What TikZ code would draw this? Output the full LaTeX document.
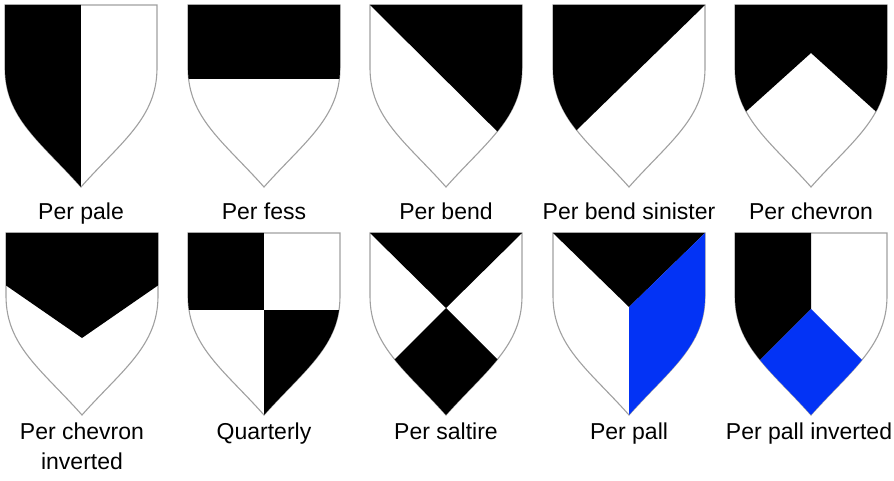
\documentclass[tikz,border=0pt]{standalone}
\usepackage{fontspec}
\setmainfont{Liberation Sans}
\definecolor{tinct}{HTML}{0333F5}
\definecolor{edgegray}{HTML}{A0A0A0}
\def\shieldp{(0,0) -- (152,0) -- (152,63) .. controls (152,113) and (116,137) .. (76,182) .. controls (36,137) and (0,113) .. (0,63) -- cycle}
\tikzset{
  outline/.style={draw=edgegray, line width=1.1pt, fill=white},
  lbl/.style={anchor=base, font=\fontsize{23}{30}\selectfont, inner sep=0pt, align=center}
}
\begin{document}
\begin{tikzpicture}[x=1pt,y=-1pt]
\useasboundingbox (0,0) rectangle (894,481);
% ---------- Row 1 ----------
% Per pale
\begin{scope}[shift={(5,5)}]
  \path[outline] \shieldp;
  \begin{scope}\clip \shieldp; \fill[black] (-5,-5) rectangle (76,190); \end{scope}
\end{scope}
% Per fess
\begin{scope}[shift={(188,5)}]
  \path[outline] \shieldp;
  \begin{scope}\clip \shieldp; \fill[black] (-5,-5) rectangle (160,74); \end{scope}
\end{scope}
% Per bend
\begin{scope}[shift={(370,5)}]
  \path[outline] \shieldp;
  \begin{scope}\clip \shieldp; \fill[black] (0,0) -- (160,0) -- (160,159) -- cycle; \end{scope}
\end{scope}
% Per bend sinister
\begin{scope}[shift={(553,5)}]
  \path[outline] \shieldp;
  \begin{scope}\clip \shieldp; \fill[black] (152,0) -- (-8,0) -- (-8,156) -- cycle; \end{scope}
\end{scope}
% Per chevron
\begin{scope}[shift={(735,5)}]
  \path[outline] \shieldp;
  \begin{scope}\clip \shieldp; \fill[black] (-5,-5) -- (157,-5) -- (157,121) -- (76,48) -- (-5,121) -- cycle; \end{scope}
\end{scope}
% ---------- Row 2 ----------
% Per chevron inverted
\begin{scope}[shift={(6,233)}]
  \path[outline] \shieldp;
  \begin{scope}\clip \shieldp; \fill[black] (-5,-5) -- (157,-5) -- (157,49) -- (76,105) -- (-5,49) -- cycle; \end{scope}
\end{scope}
% Quarterly
\begin{scope}[shift={(188,233)}]
  \path[outline] \shieldp;
  \begin{scope}\clip \shieldp;
    \fill[black] (-5,-5) rectangle (76,77);
    \fill[black] (76,77) rectangle (160,190);
  \end{scope}
\end{scope}
% Per saltire
\begin{scope}[shift={(370,233)}]
  \path[outline] \shieldp;
  \begin{scope}\clip \shieldp;
    \fill[black] (0,0) -- (152,0) -- (76,75) -- cycle;
    \fill[black] (76,75) -- (196,195) -- (-44,195) -- cycle;
  \end{scope}
\end{scope}
% Per pall
\begin{scope}[shift={(553,233)}]
  \path[outline] \shieldp;
  \begin{scope}\clip \shieldp;
    \fill[black] (0,0) -- (152,0) -- (76,74) -- cycle;
    \fill[tinct] (76,74) -- (152,0) -- (160,0) -- (160,190) -- (76,190) -- cycle;
  \end{scope}
\end{scope}
% Per pall inverted
\begin{scope}[shift={(735,233)}]
  \path[outline] \shieldp;
  \begin{scope}\clip \shieldp;
    \fill[black] (-5,-5) -- (76,-5) -- (76,76) -- (-5,157) -- cycle;
    \fill[tinct] (76,76) -- (-5,157) -- (-5,200) -- (157,200) -- (157,157) -- cycle;
  \end{scope}
\end{scope}
% ---------- Labels ----------
\node[lbl] (l1) at (81,219) {Per pale};
\node[lbl] (l2) at (264,219) {Per fess};
\node[lbl] (l3) at (446,219) {Per bend};
\node[lbl] (l4) at (629,219) {Per bend sinister};
\node[lbl] (l5) at (811,219) {Per chevron};
\node[lbl] (l6) at (82,469) {Per chevron\\inverted};
\node[lbl] (l7) at (264,439) {Quarterly};
\node[lbl] (l8) at (446,439) {Per saltire};
\node[lbl] (l9) at (629,439) {Per pall};
\node[lbl] (l10) at (809,439) {Per pall inverted};
\end{tikzpicture}
\end{document}
